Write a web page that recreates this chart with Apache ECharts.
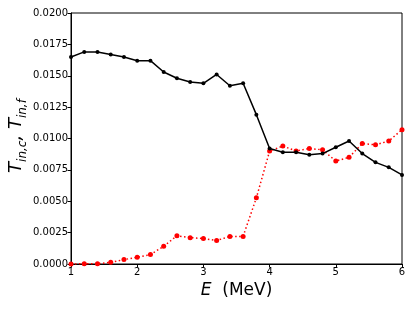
<!DOCTYPE html>
<html>
<head>
<meta charset="utf-8">
<script src="https://cdn.jsdelivr.net/npm/echarts@6/dist/echarts.min.js"></script>
<style>
html,body{margin:0;padding:0;background:#fff;}
#c{width:415px;height:311px;}
</style>
</head>
<body>
<div id="c"></div>
<script>
const energies = [1.0,1.2,1.4,1.6,1.8,2.0,2.2,2.4,2.6,2.8,3.0,3.2,3.4,3.6,3.8,4.0,4.2,4.4,4.6,4.8,5.0,5.2,5.4,5.6,5.8,6.0];
const tInC = [0.0165,0.0169,0.0169,0.0167,0.0165,0.0162,0.0162,0.0153,0.0148,0.0145,0.0144,0.0151,0.0142,0.0144,0.0119,0.0092,0.0089,0.0089,0.0087,0.0088,0.0093,0.0098,0.0088,0.0081,0.0077,0.0071];
const tInF = [0.0000,0.00002,0.00002,0.00013,0.00035,0.00054,0.00075,0.00141,0.00225,0.0021,0.00203,0.00187,0.0022,0.0022,0.00527,0.0090,0.0094,0.0090,0.0092,0.0091,0.0082,0.0085,0.0096,0.0095,0.0098,0.0107];
const xTicks = [1,2,3,4,5,6];
const yTicks = [0,0.0025,0.005,0.0075,0.01,0.0125,0.015,0.0175,0.02];

const chart = echarts.init(document.getElementById('c'), null, {renderer:'canvas'});
const font = 'DejaVu Sans';
chart.setOption({
  animation:false,
  backgroundColor:'#fff',
  grid:{left:71,right:13,top:13,bottom:47,containLabel:false,outerBoundsMode:'none',show:true,borderColor:'#000',borderWidth:1,backgroundColor:'transparent'},
  graphic:[{
    type:'text',x:20,y:136,rotation:Math.PI/2,
    style:{
      text:'{t|T}{s|in,c}{t|, }{t|T}{s|in,f}',
      align:'center',verticalAlign:'middle',
      fontFamily:font,fontSize:18,fill:'#000',
      rich:{t:{fontFamily:font,fontStyle:'italic',fontSize:18,fill:'#000',lineHeight:18,verticalAlign:'bottom',padding:[0,0,4,0]},
            s:{fontFamily:font,fontStyle:'italic',fontSize:12,fill:'#000',lineHeight:12,verticalAlign:'bottom'}}
    }
  }],
  xAxis:{
    type:'value',min:xTicks[0],max:xTicks[xTicks.length-1],interval:1,
    name:'{i|E}  (MeV)',nameLocation:'middle',nameGap:18,
    nameTextStyle:{fontFamily:font,fontSize:17,color:'#000',rich:{i:{fontFamily:font,fontStyle:'italic',fontSize:17,color:'#000'}}},
    axisLine:{show:true,lineStyle:{color:'#000',width:1}},
    axisTick:{show:true,length:3.5,inside:false,lineStyle:{color:'#000'}},
    axisLabel:{fontFamily:font,fontSize:10,color:'#000',margin:3},
    splitLine:{show:false}
  },
  yAxis:{
    type:'value',min:0,max:0.02,interval:0.0025,
    axisLine:{show:true,lineStyle:{color:'#000',width:1}},
    axisTick:{show:true,length:3.5,inside:false,lineStyle:{color:'#000'}},
    axisLabel:{fontFamily:font,fontSize:10,color:'#000',margin:3,formatter:v=>v.toFixed(4)},
    splitLine:{show:false}
  },
  series:[
    {type:'line',data:energies.map((e,i)=>[e,tInC[i]]),symbol:'circle',symbolSize:4,
     lineStyle:{color:'#000',width:1.5},itemStyle:{color:'#000'},z:3},
    {type:'line',data:energies.map((e,i)=>[e,tInF[i]]),symbol:'circle',symbolSize:5,
     lineStyle:{color:'#ff0000',width:1.5,type:[1.5,2.5]},itemStyle:{color:'#ff0000'},z:2}
  ]
});
</script>
</body>
</html>
